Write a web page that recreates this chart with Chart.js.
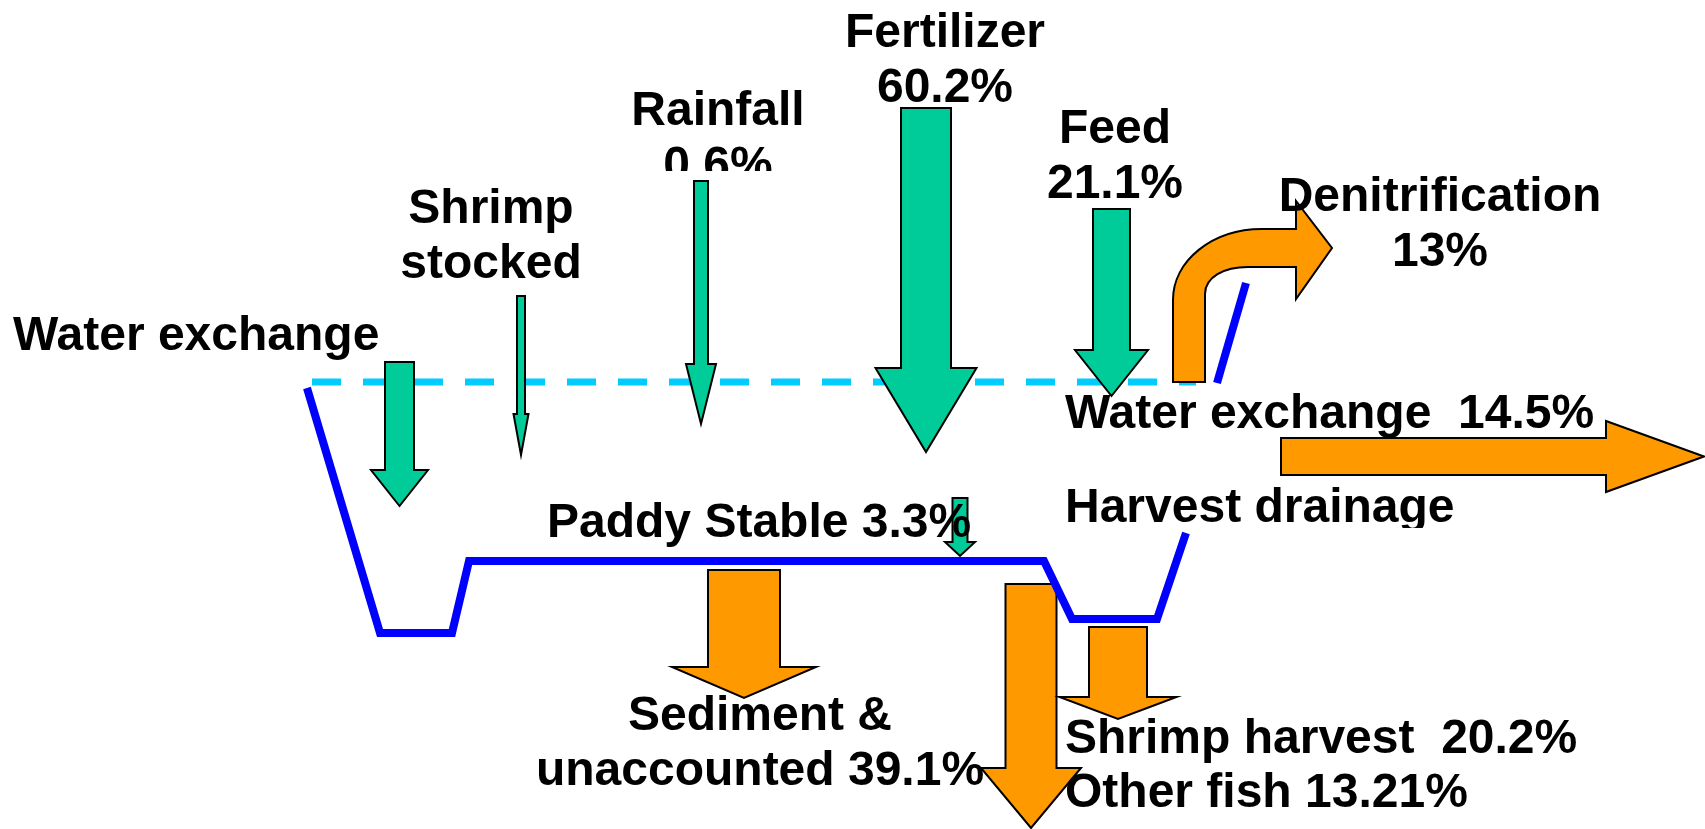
<!DOCTYPE html>
<html>
<head>
<meta charset="utf-8">
<script src="https://cdn.jsdelivr.net/npm/chart.js@4.4.1/dist/chart.umd.min.js"></script>
<style>
  html, body { margin: 0; padding: 0; background: #fff; }
  #wrap { width: 1705px; height: 829px; }
</style>
</head>
<body>
<div id="wrap"><canvas id="flow" width="1705" height="829"></canvas></div>
<script>
// nitrogen budget values (% of total input / output)
const inflowNames = ["Water exchange", "Shrimp\nstocked", "Rainfall", "Fertilizer", "Feed", "Paddy Stable"];
const inflowShares = [null, null, 0.6, 60.2, 21.1, 3.3];
const outflowNames = ["Denitrification", "Water exchange", "Harvest drainage", "Sediment &\nunaccounted", "Shrimp harvest", "Other fish"];
const outflowShares = [13, 14.5, null, 39.1, 20.2, 13.21];

// pond cross-section, in diagram units
const pondX = [307, 380, 452, 469, 1044, 1072, 1157, 1186];
const pondY = [388, 633, 633, 561, 561, 619, 619, 533];
const rimX = [1217, 1246];
const rimY = [383, 283];
const surfaceX = [312, 1196];
const surfaceY = [382, 382];

const GREEN = "#00CC99";
const ORANGE = "#FF9900";

// arrow layout: down arrows [centre, top, headStart, tip, shaftW, headW]
const downArrows = [
  { flow: ["in", 0], c: 399.5, top: 362, head: 470, tip: 506, sw: 29, hw: 57 },
  { flow: ["in", 1], c: 521, top: 296, head: 414, tip: 455, sw: 8, hw: 15 },
  { flow: ["in", 2], c: 701, top: 181, head: 364, tip: 424, sw: 14, hw: 30 },
  { flow: ["in", 3], c: 926, top: 108, head: 368, tip: 452, sw: 50, hw: 101 },
  { flow: ["in", 4], c: 1111.5, top: 209, head: 350, tip: 396, sw: 37, hw: 73 },
  { flow: ["in", 5], c: 960, top: 498, head: 542, tip: 556, sw: 15, hw: 30 },
  { flow: ["out", 3], c: 744, top: 570, head: 667, tip: 698, sw: 72, hw: 144 },
  { flow: ["out", 5], c: 1031, top: 584, head: 768, tip: 828, sw: 51, hw: 100 },
  { flow: ["out", 4], c: 1118, top: 627, head: 697, tip: 719, sw: 58, hw: 117 }
];

// label layout: which flow, where, how the share is joined
const labelLayout = [
  { flow: ["in", 0], x: 13, y: 350, align: "left" },
  { flow: ["in", 1], x: 491, y: 223, align: "center" },
  { flow: ["in", 2], x: 718, y: 125, align: "center", join: "\n", clip: 171 },
  { flow: ["in", 3], x: 945, y: 47, align: "center", join: "\n" },
  { flow: ["in", 4], x: 1115, y: 143, align: "center", join: "\n" },
  { flow: ["in", 5], x: 547, y: 537, align: "left", join: " " },
  { flow: ["out", 0], x: 1440, y: 211, align: "center", join: "\n" },
  { flow: ["out", 1], x: 1065, y: 428, align: "left", join: "  " },
  { flow: ["out", 2], x: 1065, y: 522, align: "left", clip: 528 },
  { flow: ["out", 3], x: 760, y: 730, align: "center", join: " " },
  { flow: ["out", 4], x: 1065, y: 753, align: "left", join: "  " },
  { flow: ["out", 5], x: 1065, y: 807, align: "left", join: " " }
];

function flowText(f, join) {
  const names = f[0] === "in" ? inflowNames : outflowNames;
  const shares = f[0] === "in" ? inflowShares : outflowShares;
  const v = shares[f[1]];
  return v == null ? names[f[1]] : names[f[1]] + join + v + "%";
}

function pts(xs, ys) {
  return xs.map((x, i) => ({ x: x, y: ys[i] }));
}

// draw a polygon given in diagram units
function poly(ctx, sx, sy, p, fill) {
  ctx.beginPath();
  p.forEach((q, i) => {
    const px = sx.getPixelForValue(q[0]);
    const py = sy.getPixelForValue(q[1]);
    if (i === 0) ctx.moveTo(px, py); else ctx.lineTo(px, py);
  });
  ctx.closePath();
  ctx.fillStyle = fill;
  ctx.fill();
  ctx.stroke();
}

const flowPlugin = {
  id: "flowPlugin",
  afterDatasetDraw(chart, args) {
    // arrows go on top of the water surface but under the pond outline
    if (args.index !== 2) return;
    const ctx = chart.ctx;
    const sx = chart.scales.x, sy = chart.scales.y;
    ctx.save();
    ctx.strokeStyle = "#000";
    ctx.lineWidth = 2;
    ctx.lineJoin = "miter";

    downArrows.forEach((a) => {
      const col = a.flow[0] === "in" ? GREEN : ORANGE;
      poly(ctx, sx, sy, [
        [a.c - a.sw / 2, a.top], [a.c + a.sw / 2, a.top], [a.c + a.sw / 2, a.head],
        [a.c + a.hw / 2, a.head], [a.c, a.tip], [a.c - a.hw / 2, a.head],
        [a.c - a.sw / 2, a.head]
      ], col);
    });

    // water exchange out, horizontal
    poly(ctx, sx, sy, [
      [1281, 438], [1606, 438], [1606, 421], [1704, 456.5],
      [1606, 492], [1606, 475], [1281, 475]
    ], ORANGE);

    // denitrification, bent-up arrow
    const X = (v) => sx.getPixelForValue(v);
    const Y = (v) => sy.getPixelForValue(v);
    ctx.beginPath();
    ctx.moveTo(X(1173), Y(382));
    ctx.lineTo(X(1173), Y(300));
    ctx.bezierCurveTo(X(1173), Y(261), X(1212), Y(229), X(1262), Y(229));
    ctx.lineTo(X(1296), Y(229));
    ctx.lineTo(X(1296), Y(201));
    ctx.lineTo(X(1332), Y(248));
    ctx.lineTo(X(1296), Y(299));
    ctx.lineTo(X(1296), Y(267));
    ctx.lineTo(X(1248), Y(267));
    ctx.bezierCurveTo(X(1224), Y(267), X(1205), Y(277), X(1205), Y(294));
    ctx.lineTo(X(1205), Y(382));
    ctx.closePath();
    ctx.fillStyle = ORANGE;
    ctx.fill();
    ctx.stroke();
    ctx.restore();
  },
  afterDatasetsDraw(chart) {
    const ctx = chart.ctx;
    const sx = chart.scales.x, sy = chart.scales.y;
    ctx.save();
    ctx.fillStyle = "#000";
    ctx.font = 'bold 48px "Liberation Sans", Arial, sans-serif';
    ctx.textBaseline = "alphabetic";
    labelLayout.forEach((l) => {
      const lines = flowText(l.flow, l.join || " ").split("\n");
      ctx.save();
      if (l.clip) {
        ctx.beginPath();
        ctx.rect(0, 0, chart.width, sy.getPixelForValue(l.clip));
        ctx.clip();
      }
      ctx.textAlign = l.align;
      lines.forEach((t, i) => {
        ctx.fillText(t, sx.getPixelForValue(l.x), sy.getPixelForValue(l.y + i * 55));
      });
      ctx.restore();
    });
    ctx.restore();
  }
};

new Chart(document.getElementById("flow"), {
  type: "scatter",
  data: {
    datasets: [
      {
        label: "pond",
        data: pts(pondX, pondY),
        showLine: true,
        borderColor: "#0000FF",
        borderWidth: 8,
        pointRadius: 0,
        borderJoinStyle: "miter",
        order: 1
      },
      {
        label: "rim",
        data: pts(rimX, rimY),
        showLine: true,
        borderColor: "#0000FF",
        borderWidth: 8,
        pointRadius: 0,
        order: 1
      },
      {
        label: "surface",
        data: pts(surfaceX, surfaceY),
        showLine: true,
        borderColor: "#00CCFF",
        borderWidth: 7,
        borderDash: [29, 22],
        pointRadius: 0,
        order: 2
      }
    ]
  },
  options: {
    responsive: false,
    animation: false,
    layout: { padding: 0 },
    plugins: { legend: { display: false }, tooltip: { enabled: false } },
    scales: {
      x: { type: "linear", min: 0, max: 1705, display: false },
      y: { type: "linear", min: 0, max: 829, reverse: true, display: false }
    }
  },
  plugins: [flowPlugin]
});
</script>
</body>
</html>
